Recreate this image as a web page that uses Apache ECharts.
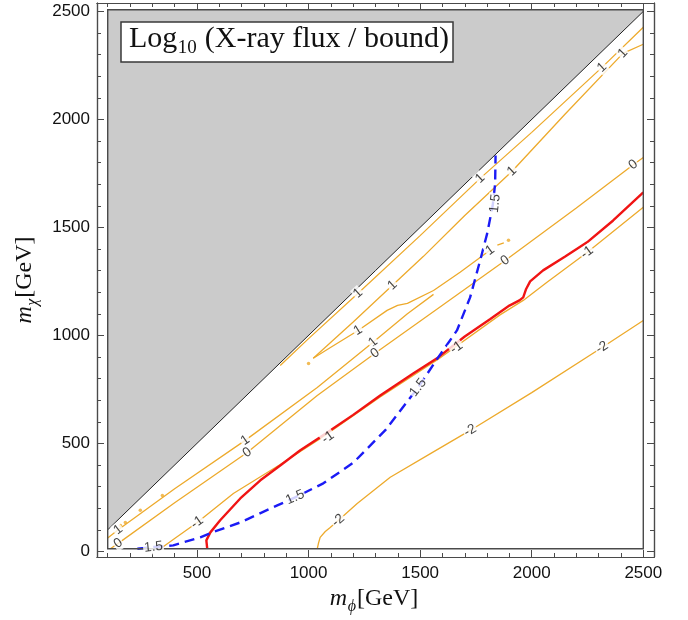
<!DOCTYPE html>
<html><head><meta charset="utf-8">
<script src="https://cdn.jsdelivr.net/npm/echarts@6/dist/echarts.min.js"></script>
<style>html,body{margin:0;padding:0;background:#fff}#c{width:688px;height:620px}</style>
</head><body><div id="c"></div>
<script>
// ---- tick values ----
const majorX = [500, 1000, 1500, 2000, 2500];
const minorX = [100,200,300,400,600,700,800,900,1100,1200,1300,1400,1600,1700,1800,1900,2100,2200,2300,2400];
const majorY = [0, 500, 1000, 1500, 2000, 2500];
const minorY = [100,200,300,400,600,700,800,900,1100,1200,1300,1400,1600,1700,1800,1900,2100,2200,2300,2400];

// ---- plot region (data units) ----
const plotRange = [[100, 12], [2500, 2508]];
const diagonal = [[100, 100], [2500, 2500]];
const grayRegion = [[100, 100], [100, 2508], [2500, 2508], [2500, 2500]];

// ---- contour lines (m_phi, m_chi) ----
const lineA = [[873,861],[1000,985],[1222,1195],[1500,1462],[1769,1727],[2000,1940],[2315,2241],[2500,2427]];
const lineB = [[1021,894],[1100,968],[1200,1062],[1376,1232],[1515,1366],[1700,1555],[1912,1760],[2150,2025],[2409,2306],[2500,2348]];
const tongueArm = [[1021,894],[1100,945],[1222,1023],[1352,1116],[1399,1139],[1443,1148],[1560,1208],[1679,1292],[1813,1394]];
const lineC = [[100,62],[147,100],[400,290],[716,514],[1039,759],[1289,968],[1443,1100],[1560,1190]];
const zeroLine = [[112,12],[147,37],[400,225],[725,458],[1039,722],[1298,917],[1600,1140],[1881,1347],[2200,1590],[2455,1790],[2500,1824]];
const minusOne = [[336,12],[400,60],[501,134],[663,268],[873,402],[1052,522],[1321,715],[1581,890],[1858,1095],[1962,1162],[2067,1245],[2248,1384],[2500,1593]];
const minusTwo = [[1039,12],[1045,40],[1052,65],[1075,92],[1097,111],[1133,143],[1218,222],[1366,343],[1550,455],[1724,560],[2000,735],[2315,944],[2500,1069]];
const redLine = [[546,12],[542,51],[560,88],[604,144],[694,245],[784,329],[873,398],[963,468],[1052,528],[1200,632],[1321,722],[1469,824],[1581,898],[1700,995],[1813,1075],[1900,1138],[1945,1162],[1962,1176],[1975,1215],[1993,1250],[2051,1301],[2150,1365],[2248,1431],[2365,1532],[2500,1662]];
const blueLine = [[233,12],[305,20],[394,28],[515,65],[569,88],[694,134],[860,213],[940,250],[1066,315],[1200,410],[1343,560],[1491,759],[1581,898],[1665,1023],[1724,1176],[1769,1347],[1800,1470],[1825,1600],[1836,1700],[1838,1833]];
const tongueDash = [[1846,1418],[1875,1428]];
const orangeDots = [[157,120],[179,134],[246,190],[345,259],[1000,870],[1896,1440]];

// ---- contour labels: [m_phi, m_chi, text, line] ----
const contourLabels = [
  [2315,2241,'1','A'],[1769,1727,'1','A'],[1222,1195,'1','A'],
  [2409,2306,'1','B'],[1912,1760,'1','B'],[1376,1232,'1','B'],
  [1222,1023,'1','T'],[1813,1394,'1','T'],
  [147,100,'1','C'],[716,514,'1','C'],[1289,968,'1','C'],
  [147,37,'0','Z'],[725,458,'0','Z'],[1298,917,'0','Z'],[1881,1347,'0','Z'],[2455,1790,'0','Z'],
  [501,134,'-1','M1'],[1087,528,'-1','M1'],[1663,944,'-1','M1'],[2248,1384,'-1','M1'],
  [1133,143,'-2','M2'],[1724,560,'-2','M2'],[2315,944,'-2','M2'],
  [305,20,'1.5','BL'],[940,250,'1.5','BL'],[1491,759,'1.5','BL'],[1836,1611,'1.5','BL']
];
const lineByName = {A:lineA,B:lineB,T:tongueArm,C:lineC,Z:zeroLine,M1:minusOne,M2:minusTwo,BL:blueLine};

const ORANGE = '#EDAA2C';
const FRAME = '#4a4a4a';
const TICKFONT = 'Liberation Sans';

const chart = echarts.init(document.getElementById('c'), null, {renderer:'canvas'});

function mkAxis(dim, gridIndex, position, vals, len, withLabels) {
  return {
    type:'value', gridIndex, position,
    min: dim === 'x' ? 52 : -26,
    max: dim === 'x' ? 2548 : 2539,
    axisLine:{show:true, onZero:false, lineStyle:{color:FRAME, width:1.2}},
    axisTick:{show:true, inside:true, length:len, customValues:vals, lineStyle:{color:FRAME, width:1}},
    axisLabel:{show:withLabels, customValues:vals, formatter:(v)=>String(v), fontSize:17, fontFamily:TICKFONT, color:'#111', margin: dim==='x'?8:7},
    splitLine:{show:false}
  };
}

function orange(data, z) {
  return {type:'line', xAxisIndex:0, yAxisIndex:0, data, showSymbol:false, symbol:'none', silent:true, z:z||3,
    lineStyle:{color:ORANGE, width:1.3}};
}

const gridRect = {left:97, right:34, top:3, bottom:63};

const baseSeries = [
  {type:'custom', xAxisIndex:0, yAxisIndex:0, data:[[100,100]], silent:true, z:1,
    renderItem:(p, api)=>({type:'polygon', shape:{points:grayRegion.map(q=>api.coord(q))}, style:{fill:'#cbcbcb'}})},
  orange(lineA), orange(lineB), orange(tongueArm), orange(lineC), orange(zeroLine), orange(minusOne), orange(minusTwo),
  orange(tongueDash),
  {type:'scatter', xAxisIndex:0, yAxisIndex:0, data:orangeDots, symbol:'circle', symbolSize:3.5, itemStyle:{color:ORANGE}, silent:true, z:3},
  {type:'line', xAxisIndex:0, yAxisIndex:0, data:redLine, showSymbol:false, symbol:'none', silent:true, z:4,
    lineStyle:{color:'#F01414', width:2.4}},
  {type:'line', xAxisIndex:0, yAxisIndex:0, data:blueLine, showSymbol:false, symbol:'none', silent:true, z:5,
    lineStyle:{color:'#1B1BF5', width:2.4, type:[10,6]}},
  {type:'line', xAxisIndex:0, yAxisIndex:0, data:diagonal, showSymbol:false, symbol:'none', silent:true, z:6,
    lineStyle:{color:'#222', width:1}},
  {type:'custom', xAxisIndex:0, yAxisIndex:0, data:[[100,12]], silent:true, z:7,
    renderItem:(p, api)=>{const a=api.coord([plotRange[0][0], plotRange[1][1]]); const b=api.coord([plotRange[1][0], plotRange[0][1]]);
      return {type:'rect', shape:{x:a[0], y:a[1], width:b[0]-a[0], height:b[1]-a[1]}, style:{fill:'none', stroke:FRAME, lineWidth:1.4}};}}
];

chart.setOption({
  animation:false,
  grid:[Object.assign({}, gridRect), Object.assign({}, gridRect)],
  xAxis:[
    mkAxis('x',0,'bottom',majorX,7,true),
    mkAxis('x',0,'top',majorX,7,false),
    mkAxis('x',1,'bottom',minorX,4,false),
    mkAxis('x',1,'top',minorX,4,false)
  ],
  yAxis:[
    mkAxis('y',0,'left',majorY,7,true),
    mkAxis('y',0,'right',majorY,7,false),
    mkAxis('y',1,'left',minorY,4,false),
    mkAxis('y',1,'right',minorY,4,false)
  ],
  series: baseSeries
});

function distSeg(p, a, b){
  const dx=b[0]-a[0], dy=b[1]-a[1]; const L=dx*dx+dy*dy||1;
  let t=((p[0]-a[0])*dx+(p[1]-a[1])*dy)/L; t=Math.max(0,Math.min(1,t));
  return Math.hypot(p[0]-(a[0]+t*dx), p[1]-(a[1]+t*dy));
}
function toPx(p){ return chart.convertToPixel({xAxisIndex:0, yAxisIndex:0}, p); }
function angleFor(lbl){
  const P = lineByName[lbl[3]].map(toPx); const L = toPx([lbl[0],lbl[1]]);
  let bi=0, bd=Infinity;
  for (let i=0;i<P.length-1;i++){ const d=distSeg(L,P[i],P[i+1]); if(d<bd){bd=d;bi=i;} }
  const a=P[bi], b=P[bi+1];
  let ang = Math.atan2(-(b[1]-a[1]), b[0]-a[0])*180/Math.PI;
  if (ang>90) ang-=180; if (ang<-90) ang+=180;
  return ang;
}
const labelData = contourLabels.map(l=>({name:l[2], value:[l[0],l[1]], label:{rotate:angleFor(l)}}));

const mctx = document.createElement('canvas').getContext('2d');
const SERIF = '"Liberation Serif"';
function fontStr(size, italic){ return (italic?'italic ':'') + size + 'px ' + SERIF; }
function tw(text, font){ mctx.font = font; return mctx.measureText(text).width; }
function txt(text, x, baseline, size, italic){
  return {type:'text', x:x, y:baseline - 0.3375*size, silent:true,
    style:{text, font:fontStr(size, italic), fill:'#111', textAlign:'left', align:'left', textVerticalAlign:'middle', verticalAlign:'middle'}};
}

// title box
const tSize = 30, tSub = 19;
const tx = 129, tb = 49;
const w1 = tw('Log', fontStr(tSize)); const w2 = tw('10', fontStr(tSub));
const titleEls = [
  {type:'rect', shape:{x:121, y:22, width:332, height:40}, style:{fill:'#fff', stroke:'#3a3a3a', lineWidth:1.5}, z:100},
  Object.assign(txt('Log', tx, tb, tSize), {z:101}),
  Object.assign(txt('10', tx+w1+0.5, tb+5, tSub), {z:101}),
  Object.assign(txt(' (X-ray flux / bound)', tx+w1+w2+1, tb, tSize), {z:101})
];

const aSize = 24, aSub = 16;
function axisTitle(sub){
  const wm = tw('m', fontStr(aSize, true)); const ws = tw(sub, fontStr(aSub, true));
  return {els:[txt('m',0,0,aSize,true), txt(sub, wm+0.5, 5, aSub, true), txt('[GeV]', wm+ws+1.5, 0, aSize, false)],
    width: wm+ws+1.5+tw('[GeV]', fontStr(aSize))};
}
const xt = axisTitle('\u03d5');
const yt = axisTitle('\u03c7');

chart.setOption({
  series: baseSeries.concat([{
    type:'scatter', xAxisIndex:0, yAxisIndex:0, data:labelData, symbolSize:0, silent:true, z:20,
    label:{show:true, position:'inside', formatter:'{b}', fontSize:13.5, fontFamily:TICKFONT, color:'#111', backgroundColor:'#fff', padding:[0,1]}
  }]),
  graphic:[
    {type:'group', z:100, children:titleEls},
    {type:'group', x: 374 - xt.width/2, y: 607, children: xt.els},
    {type:'group', x: 33, y: 280 + yt.width/2, rotation: Math.PI/2, children: yt.els}
  ]
});
</script></body></html>
